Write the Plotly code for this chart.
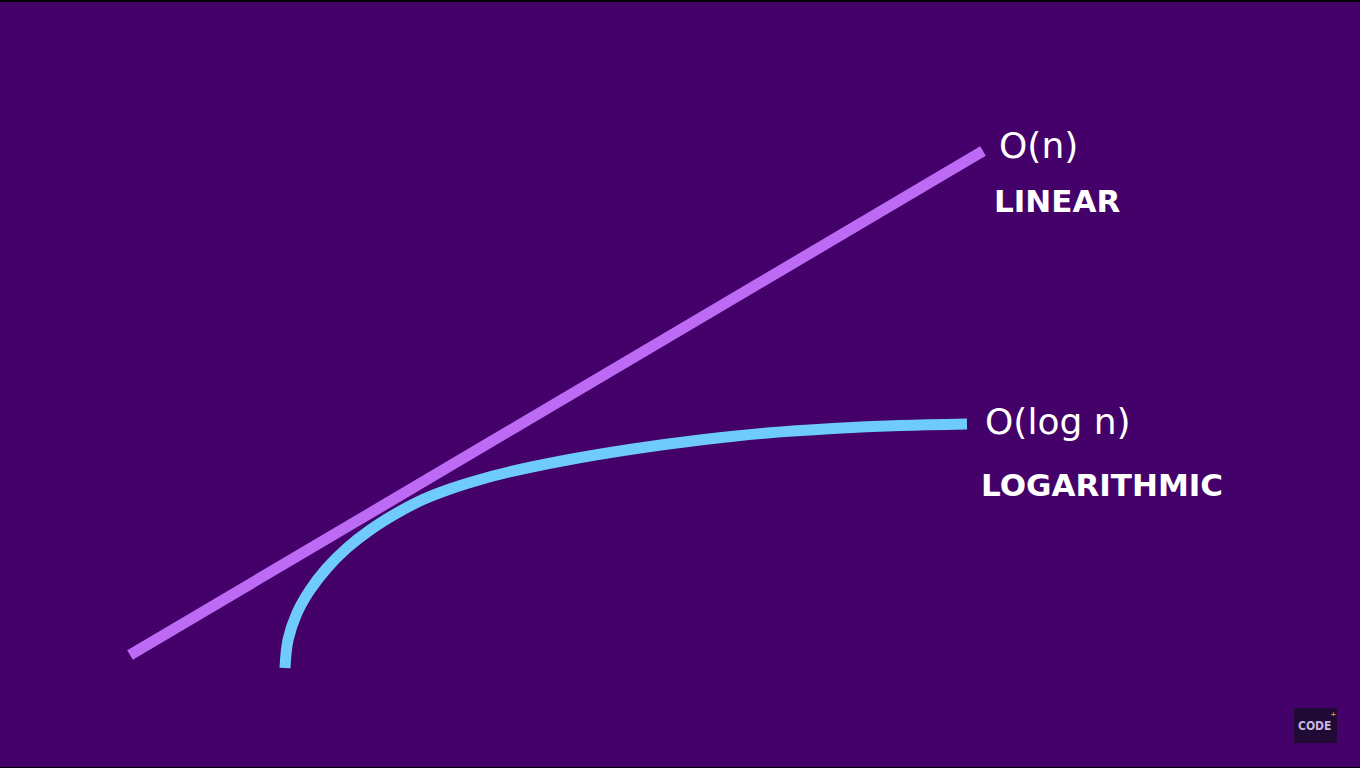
import plotly.graph_objects as go

# Data (chart units: horizontal position, vertical position measured from top)
linear_x = [130, 983]
linear_y = [655, 151]

log_x = [285, 288, 297, 310, 327, 347, 370, 397, 423, 450, 477, 507, 567, 633, 700, 767, 833, 900, 967]
log_y = [668, 640, 613, 590, 568, 548, 530, 513, 499.5, 489, 480.5, 472.5, 460, 449, 440, 433, 428.5, 425.5, 424]

labels = ["O(n)", "LINEAR", "O(log n)", "LOGARITHMIC"]

BG = "#44016A"
PURPLE = "#BD6BF4"
BLUE = "#6FCBFB"

fig = go.Figure()
fig.add_trace(go.Scatter(x=linear_x, y=linear_y, mode="lines",
                         line=dict(color=PURPLE, width=11), hoverinfo="skip"))
fig.add_trace(go.Scatter(x=log_x, y=log_y, mode="lines",
                         line=dict(color=BLUE, width=11, shape="spline", smoothing=1.0),
                         hoverinfo="skip"))

light_font = dict(family="DejaVu Sans ExtraLight, DejaVu Sans", size=36, color="white")
bold_font = dict(family="DejaVu Sans", size=31, color="white", weight="bold")
annos = [
    dict(x=997, y=145, text=labels[0], font=light_font),
    dict(x=992, y=201, text=labels[1], font=bold_font),
    dict(x=983, y=421, text=labels[2], font=light_font),
    dict(x=979, y=485, text=labels[3], font=bold_font),
]
for a in annos:
    fig.add_annotation(x=a["x"], y=a["y"], text=a["text"], font=a["font"],
                       xref="x", yref="y", xanchor="left", yanchor="middle",
                       showarrow=False)

# Logo box
fig.add_shape(type="rect", x0=1294, x1=1337, y0=708, y1=743, xref="x", yref="y",
              fillcolor="#1F0B35", line=dict(width=0), layer="below")
fig.add_annotation(x=1296, y=726, text="<b>CODE</b>", showarrow=False, xanchor="left",
                   font=dict(family="Liberation Sans Narrow, DejaVu Sans Condensed, Arial", size=12, color="#C9B6E0"),
                   xref="x", yref="y")
fig.add_annotation(x=1329, y=714, text="<b>+</b>", showarrow=False, xanchor="left",
                   font=dict(family="Liberation Sans", size=8, color="#E8912E"),
                   xref="x", yref="y")

# frame lines
fig.add_shape(type="rect", x0=0, x1=1360, y0=0, y1=2, xref="x", yref="y",
              fillcolor="black", line=dict(width=0))
fig.add_shape(type="rect", x0=0, x1=1360, y0=767, y1=768, xref="x", yref="y",
              fillcolor="black", line=dict(width=0))

fig.update_layout(
    width=1360, height=768,
    margin=dict(l=0, r=0, t=0, b=0),
    paper_bgcolor=BG, plot_bgcolor=BG,
    showlegend=False,
    xaxis=dict(range=[0, 1360], visible=False, fixedrange=True),
    yaxis=dict(range=[768, 0], visible=False, fixedrange=True),
)

fig.write_html("out.html", config={"displayModeBar": False},
               post_script="document.body.style.margin='0';document.body.style.overflow='hidden';")
